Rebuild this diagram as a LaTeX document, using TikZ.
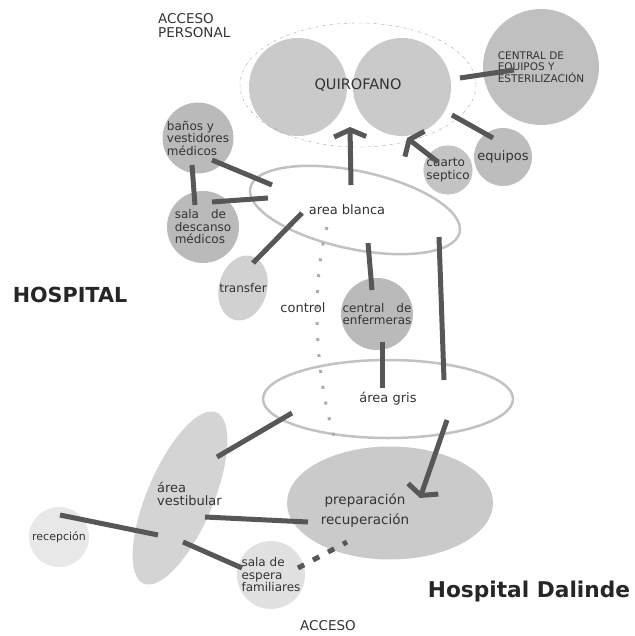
\documentclass[tikz,border=0pt]{standalone}
\usepackage{fontspec}
\setmainfont{DejaVu Sans}
\usetikzlibrary{arrows.meta,shapes.geometric}
\definecolor{roomgray}{HTML}{BDBDBD}
\definecolor{zonegray}{HTML}{C2C2C2}
\definecolor{linkgray}{HTML}{575757}
\definecolor{txtgray}{HTML}{333333}
\begin{document}
\begin{tikzpicture}
    [%%%%%%%%%%%%%%%%%%%%%%%%%%%%%%
        x=1pt, y=-1pt,
        room/.style={circle, fill=roomgray, inner sep=0pt, align=left, text=txtgray,
            font=\fontsize{12}{12.5}\selectfont},
        zone/.style={ellipse, draw=zonegray, line width=2.5pt, inner sep=0pt, text=txtgray,
            font=\fontsize{13}{13.5}\selectfont},
        lbl/.style={inner sep=0pt, align=left, text=txtgray, font=\fontsize{13}{13.5}\selectfont},
        link/.style={draw=linkgray, line width=5pt},
        flow/.style={link, -{Straight Barb[length=7pt,width=32pt]}},
    ]%%%%%%%%%%%%%%%%%%%%%%%%%%%%%%
    \useasboundingbox (0,0) rectangle (634,636);

    % zona quirurgica
    \node[room, fill=roomgray!80, minimum size=98pt] (quiroA) at (298,87) {};
    \node[room, fill=roomgray!80, minimum size=98pt] (quiroB) at (402,87) {};
    \node[ellipse, draw=gray!70, dash dot, thin, minimum width=236pt, minimum height=124pt,
        text=txtgray, font=\fontsize{14.5}{15}\selectfont] (quiro) at (358,85) {QUIROFANO};
    \node[room, fill=roomgray!95, minimum size=116pt, font=\fontsize{10.5}{11.5}\selectfont] (central) at (541,67)
        {CENTRAL DE\\EQUIPOS Y\\ESTERILIZACIÓN};
    \node[room, minimum size=58pt, font=\fontsize{13}{13.5}\selectfont] (equipos) at (503,157) {equipos};
    \node[room, fill=roomgray!90, minimum size=40pt] (cuarto) at (448,170) {cuarto\\septico};
    \node[lbl, anchor=west, font=\fontsize{13.5}{14}\selectfont] (accper) at (158,26) {ACCESO\\PERSONAL};

    % area blanca
    \node[room, fill=roomgray!105, minimum size=70pt] (banos) at (198,138) {baños y\\vestidores\\médicos};
    \node[room, fill=roomgray!105, minimum size=72pt] (descanso) at (203,227) {sala\quad de\\descanso\\médicos};
    \node[zone, minimum width=214pt, minimum height=78pt, rotate=-12] (blanca) at (355,210) {};
    \node[lbl] (blancatxt) at (347,210) {area blanca};
    \node[ellipse, fill=roomgray!70, inner sep=0pt, minimum width=48pt, minimum height=66pt, rotate=-15] (transfer) at (243,288) {};
    \node[lbl, font=\fontsize{12}{12.5}\selectfont] (transfertxt) at (243,288) {transfer};
    \node[lbl] (control) at (303,308) {control};
    \node[room, fill=roomgray!105, minimum size=72pt] (enfer) at (377,314) {central\quad de\\enfermeras};
    \coordinate (ctrlA) at (313,275);
    \coordinate (ctrlB) at (312,365);

    % area gris
    \node[zone, minimum width=250pt, minimum height=78pt] (gris) at (388,399) {área gris};
    \node[ellipse, fill=roomgray!65, inner sep=0pt, minimum width=66pt, minimum height=186pt, rotate=-23] (vestib) at (180,498) {};
    \node[lbl, anchor=west] (vestibtxt) at (157,494) {área\\vestibular};
    \node[ellipse, fill=roomgray!80, inner sep=0pt, minimum width=206pt, minimum height=113pt] (prep) at (390,503) {};
    \node[lbl, align=center, font=\fontsize{13.5}{14}\selectfont] (preptxt) at (365,510) {preparación\\[6pt]recuperación};
    \node[room, fill=roomgray!35, minimum size=60pt, font=\fontsize{11}{12}\selectfont] (recep) at (59,537) {recepción};
    \node[room, fill=roomgray!45, minimum size=62pt] (espera) at (271,575) {sala de\\espera\\familiares};
    \node[lbl, font=\fontsize{13.5}{14}\selectfont] (acceso) at (328,626) {ACCESO};

    % titulos
    \node[inner sep=0pt, text=black!85, font=\fontsize{20.7}{22}\bfseries] (hosp) at (70,295) {HOSPITAL};
    \node[inner sep=0pt, anchor=base, text=black!85, font=\fontsize{21.7}{23}\bfseries] (dalinde) at (529,597) {Hospital Dalinde};

    % recorrido control
    \draw[draw=gray!65, line width=3pt, dash pattern=on 3pt off 13pt]
        ([shift={(-28,17)}]blanca.center) .. controls (ctrlA) and (ctrlB) .. ([shift={(-53,41)}]gris.center);

    % conexiones
    \draw[link] ([shift={(14,22)}]banos.center) -- ([shift={(-83,-25)}]blanca.center);
    \draw[link] ([shift={(-6,27)}]banos.center) -- ([shift={(-8,-22)}]descanso.center);
    \draw[link] ([shift={(9,-25)}]descanso.center) -- ([shift={(-87,-12)}]blanca.center);
    \draw[link] ([shift={(10,-25)}]transfer.center) -- ([shift={(-53,3)}]blanca.center);
    \draw[flow] ([shift={(-4,-25)}]blanca.center) -- ([shift={(-8,42)}]quiro.center);
    \draw[flow] ([shift={(-10,-8)}]cuarto.center) -- ([shift={(5,51)}]quiroB.center);
    \draw[link] ([shift={(-10,-19)}]equipos.center) -- ([shift={(50,28)}]quiroB.center);
    \draw[link] ([shift={(58,-9)}]quiroB.center) -- ([shift={(-27,3)}]central.center);
    \draw[link] ([shift={(13,33)}]blanca.center) -- ([shift={(-5,-24)}]enfer.center);
    \draw[link] ([shift={(5,28)}]enfer.center) -- ([shift={(-6,-11)}]gris.center);
    \draw[link] ([shift={(84,27)}]blanca.center) -- ([shift={(56,-19)}]gris.center);
    \draw[flow] ([shift={(59,21)}]gris.center) -- ([shift={(30,-5)}]prep.center);
    \draw[link] ([shift={(-96,14)}]gris.center) -- ([shift={(37,-41)}]vestib.center);
    \draw[link] ([shift={(25,19)}]vestib.center) -- ([shift={(-82,19)}]prep.center);
    \draw[link] ([shift={(1,-22)}]recep.center) -- ([shift={(-22,37)}]vestib.center);
    \draw[link] ([shift={(3,44)}]vestib.center) -- ([shift={(-29,-7)}]espera.center);
    \draw[link, dash pattern=on 7pt off 10pt] ([shift={(27,-7)}]espera.center) -- ([shift={(-43,39)}]prep.center);
\end{tikzpicture}
\end{document}
